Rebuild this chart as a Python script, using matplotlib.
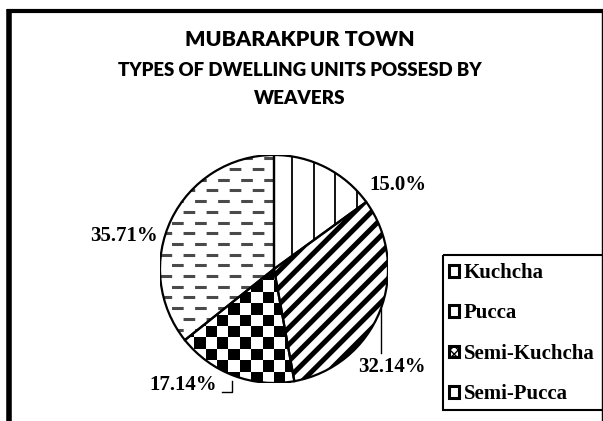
import numpy as np
import matplotlib
matplotlib.use("Agg")
import matplotlib.pyplot as plt
from matplotlib.patches import Patch, Rectangle, Wedge

# ---------------- data ----------------
categories = ["Kuchcha", "Pucca", "Semi-Kuchcha", "Semi-Pucca"]
shares = [15.0, 32.14, 17.14, 35.71]
pct_labels = ["15.0%", "32.14%", "17.14%", "35.71%"]
title_lines = ["MUBARAKPUR TOWN", "TYPES OF DWELLING UNITS POSSESD BY", "WEAVERS"]

plt.rcParams['lines.scale_dashes'] = False
plt.rcParams['hatch.color'] = 'black'

W, H = 603, 421
fig = plt.figure(figsize=(W / 100, H / 100), dpi=100)
fig.patch.set_facecolor('white')
renderer = fig.canvas.get_renderer()

# overlay axes in pixel coordinates (for frame, title, labels)
ov = fig.add_axes([0, 0, 1, 1], zorder=5)
ov.set_xlim(0, W)
ov.set_ylim(H, 0)
ov.axis('off')
ov.patch.set_alpha(0)

# chart frame
ov.plot([8.7, 8.7], [8.5, H + 2], color='black', lw=4.0, solid_capstyle='butt')
ov.plot([6.7, W + 2], [10.5, 10.5], color='black', lw=3.0, solid_capstyle='butt')
ov.plot([601.5, 601.5], [9, H + 2], color='black', lw=1.0, solid_capstyle='butt')

# title (font size fitted to the reference text widths)
tfont = ['Lato', 'DejaVu Sans']
title_y = [40, 71, 98]
title_w = [230, 366, 92]
for txt, ty, tw in zip(title_lines, title_y, title_w):
    t = ov.text(300, ty, txt, ha='center', va='center', fontsize=14,
                fontweight='heavy', family=tfont)
    wpx = t.get_window_extent(renderer).width
    t.set_fontsize(14 * tw / wpx)

# ---------------- pie ----------------
cx, cy, R = 274, 269, 114
ax = fig.add_axes([(cx - R) / W, (H - cy - R) / H, 2 * R / W, 2 * R / H], zorder=2)
wedges, _ = ax.pie(shares, startangle=90, counterclock=False, radius=1,
                   colors=['white'] * 4,
                   wedgeprops=dict(edgecolor='black', linewidth=0))
ax.set_aspect('equal')
ax.axis('off')

px = 2.0 / (2 * R)  # data units per pixel

# Kuchcha: vertical lines clipped to wedge
for xv in np.arange(18, R, 21.6) * px:
    ln, = ax.plot([xv, xv], [-1, 1], color='black', lw=1.3, zorder=2)
    ln.set_clip_path(wedges[0])

# Pucca: thick diagonal stripes
wedges[1].set_hatch('//')
wedges[1].set_edgecolor('black')
wedges[1].set_linewidth(0)
if hasattr(wedges[1], 'set_hatch_linewidth'):
    wedges[1].set_hatch_linewidth(3.6)

# Semi-Kuchcha: checkerboard clipped to wedge
n = 20
ii, jj = np.meshgrid(np.arange(n), np.arange(n))
checker = ((ii + jj) % 2).astype(float)
im = ax.imshow(checker, cmap='gray_r', extent=(-1, 1, -1, 1), interpolation='nearest',
               zorder=2, vmin=0, vmax=1)
im.set_clip_path(wedges[2])

# Semi-Pucca: grey staggered dashes clipped to wedge
rows = np.arange(-1, 1, 10.7 * px)
for k, yv in enumerate(rows):
    off = 0 if k % 2 == 0 else 8.3
    ln, = ax.plot([-1, 1], [yv, yv], color='#4a4a4a', lw=2.2,
                  linestyle=(off, (8.4, 8.2)), zorder=2)
    ln.set_clip_path(wedges[3])

ax.set_xlim(-1, 1)
ax.set_ylim(-1, 1)

# outlines on top
for w in wedges:
    ax.add_patch(Wedge(w.center, w.r, w.theta1, w.theta2, fill=False,
                       edgecolor='black', linewidth=1.6, zorder=4))

# ---------------- percentage labels ----------------
lfont = dict(family=['Liberation Serif', 'DejaVu Serif'], fontweight='bold', fontsize=15)
label_pos = [(398, 185), (392, 367), (183, 385), (124, 236)]
for txt, (lx, ly) in zip(pct_labels, label_pos):
    ov.text(lx, ly, txt, ha='center', va='center', **lfont)

# leader lines
ov.plot([381, 381], [309, 353], color='black', lw=1.0)
ov.plot([222, 232, 232], [392, 392, 381], color='black', lw=1.0)

# ---------------- legend ----------------
ov.add_patch(Rectangle((443, 255), W - 443 + 5, 155, fill=False,
                       edgecolor='black', lw=1.5, zorder=3))
handles = [Patch(facecolor='white', edgecolor='black', lw=2.2),
           Patch(facecolor='white', edgecolor='black', lw=2.2),
           Patch(facecolor='white', edgecolor='black', lw=2.2, hatch='xxxx'),
           Patch(facecolor='white', edgecolor='black', lw=2.2)]
leg = ov.legend(handles, categories, loc='upper left',
                bbox_to_anchor=(449 / W, 1 - 263 / H), bbox_transform=fig.transFigure,
                frameon=False, prop=dict(family=['Liberation Serif', 'DejaVu Serif'],
                                         weight='bold', size=15),
                handlelength=0.5, handleheight=0.5, handletextpad=0.2,
                labelspacing=0.98, borderpad=0.0, borderaxespad=0)

fig.savefig('out.png', dpi=100, facecolor='white')
